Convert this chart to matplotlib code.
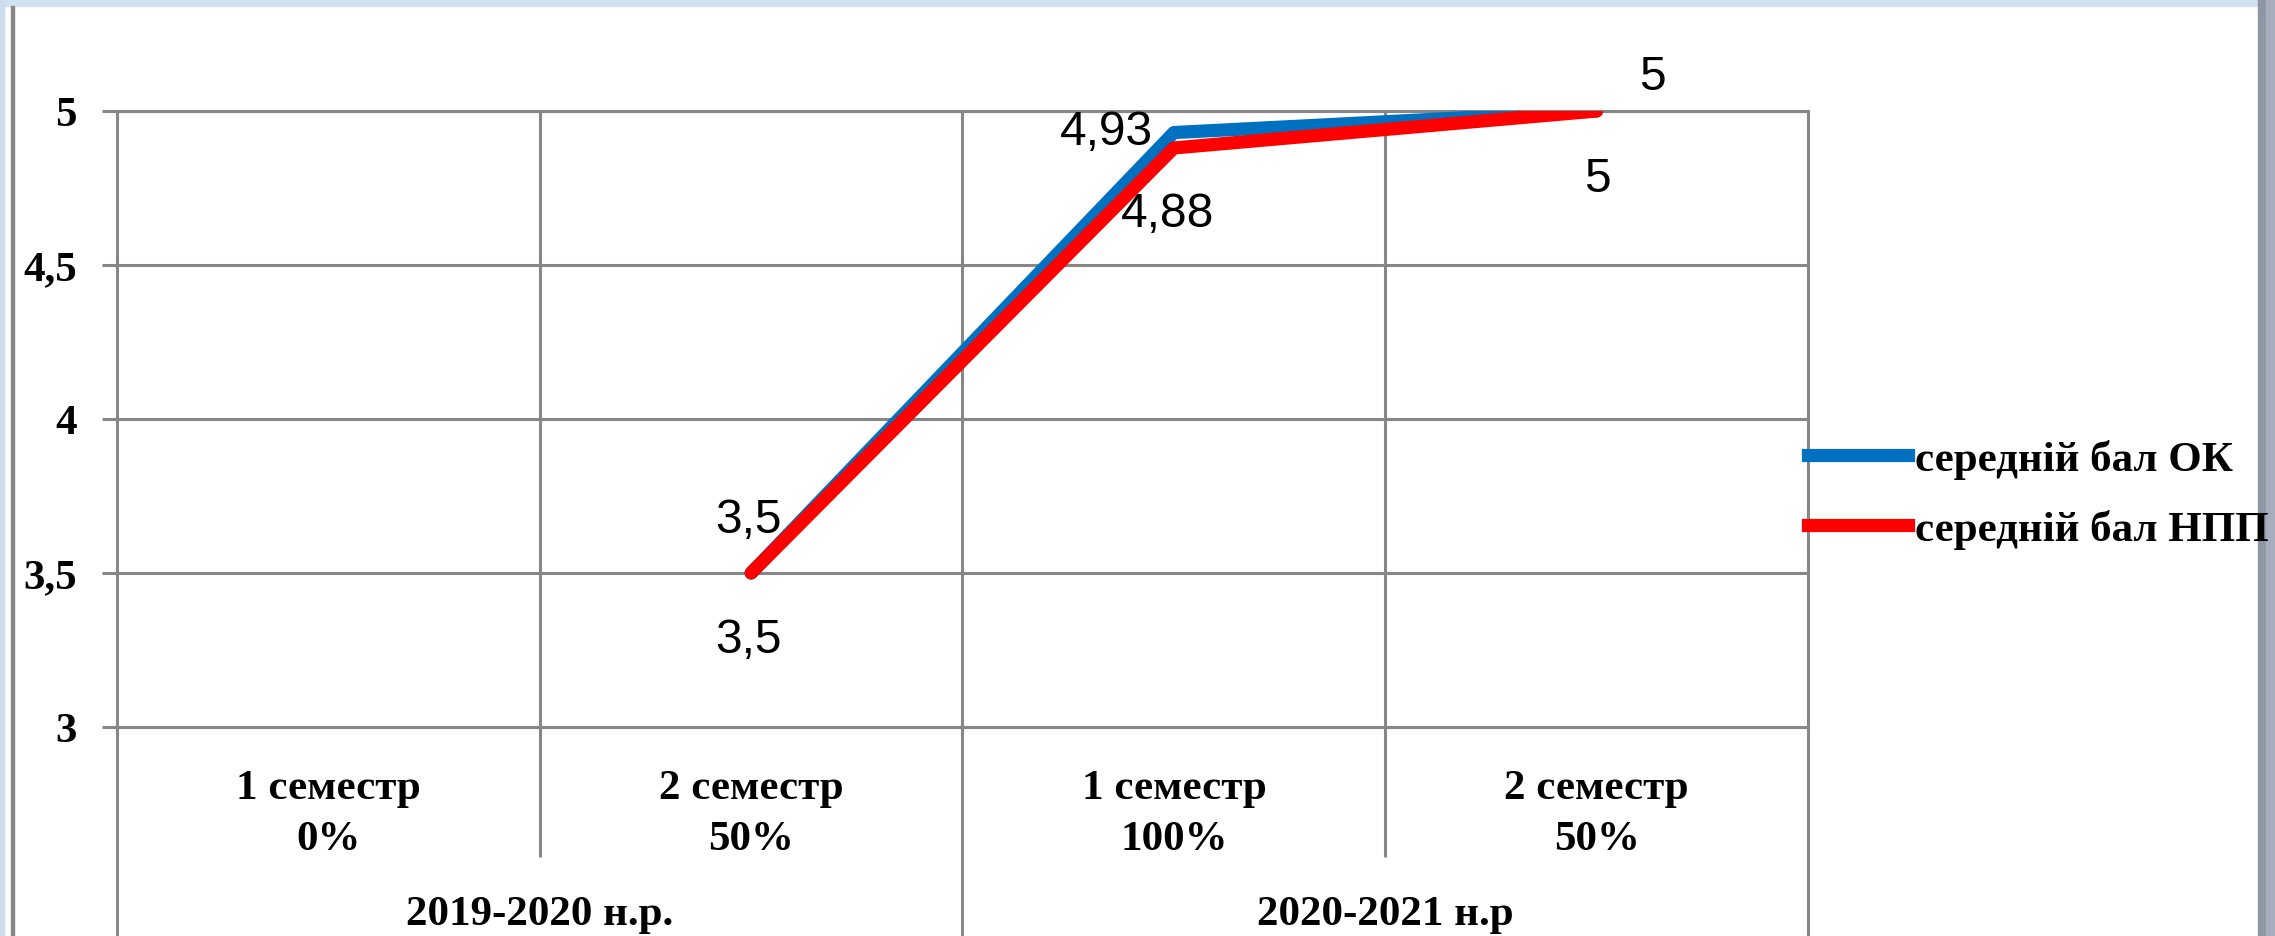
import numpy as np
import matplotlib.pyplot as plt
from matplotlib.patches import Rectangle
from matplotlib.lines import Line2D

# data
semesters = ["1 семестр", "2 семестр", "1 семестр", "2 семестр"]
shares = ["0%", "50%", "100%", "50%"]
years = ["2019-2020 н.р.", "2020-2021 н.р"]
ok_vals = [np.nan, 3.5, 4.93, 5]
npp_vals = [np.nan, 3.5, 4.88, 5]
ok_labels = ["", "3,5", "4,93", "5"]
npp_labels = ["", "3,5", "4,88", "5"]
yticks = [3, 3.5, 4, 4.5, 5]
ytick_labels = ["3", "3,5", "4", "4,5", "5"]
series_names = ["середній бал ОК", "середній бал НПП"]

W, H = 2275, 937
GRAY = "#878787"
BLUE = "#0070C0"
RED = "#FF0000"
serif = "Liberation Serif"
sans = "Liberation Sans"
FS = 31

# label offsets in pixels (x, y up)
ok_off = [(0, 0), (-3, 41), (-67, -11), (56, 22)]
npp_off = [(0, 0), (-3, -79), (-6, -78), (1, -80)]

fig = plt.figure(figsize=(W / 100, H / 100), dpi=100)
fig.patch.set_facecolor("white")

# plot area in pixels
L, R, T, B = 117, 1808, 112, 728
ax = fig.add_axes([L / W, (H - B) / H, (R - L) / W, (B - T) / H])

x = np.arange(len(semesters))
ax.plot(x, ok_vals, color=BLUE, lw=9.5, solid_capstyle="round", solid_joinstyle="round", zorder=3)
ax.plot(x, npp_vals, color=RED, lw=9.5, solid_capstyle="round", solid_joinstyle="round", zorder=4)

for i in range(len(x)):
    if ok_labels[i]:
        ax.annotate(ok_labels[i], (x[i], ok_vals[i]), xytext=ok_off[i], textcoords="offset pixels",
                    ha="center", va="baseline", fontsize=34.5, family=sans, color="black", zorder=5)
    if npp_labels[i]:
        ax.annotate(npp_labels[i], (x[i], npp_vals[i]), xytext=npp_off[i], textcoords="offset pixels",
                    ha="center", va="baseline", fontsize=34.5, family=sans, color="black", zorder=5)

ax.set_xlim(-0.5, len(x) - 0.5)
ax.set_ylim(3, 5)
ax.set_yticks(yticks, labels=ytick_labels)
ax.set_xticks([0.5, 1.5, 2.5], labels=["", "", ""])
ax.tick_params(axis="x", length=0)
ax.tick_params(axis="y", length=10.8, width=2.2, color=GRAY, pad=18, labelsize=FS)
for lab in ax.get_yticklabels():
    lab.set_family(serif)
    lab.set_fontweight("bold")
ax.grid(True, color=GRAY, lw=2.2)
for s in ax.spines.values():
    s.set_color(GRAY)
    s.set_linewidth(2.2)

# category labels
tr = ax.get_xaxis_transform()
ph = B - T
for i in range(len(x)):
    ax.text(x[i], (B - 799) / ph, semesters[i], transform=tr, ha="center", va="baseline",
            fontsize=FS, family=serif, fontweight="bold")
    ax.text(x[i], (B - 850) / ph, shares[i], transform=tr, ha="center", va="baseline",
            fontsize=FS, family=serif, fontweight="bold")
for j, yr in enumerate(years):
    ax.text(2 * j + 0.5, (B - 925) / ph, yr, transform=tr, ha="center", va="baseline",
            fontsize=FS, family=serif, fontweight="bold")

ax.vlines([0.5, 2.5], (B - 858) / ph, 0, transform=tr, colors=GRAY, lw=2.2, clip_on=False)
ax.vlines([-0.5, 1.5, 3.5], (B - H - 5) / ph, 0, transform=tr, colors=GRAY, lw=2.2, clip_on=False)

# legend
handles = [Line2D([], [], color=BLUE, lw=9.5), Line2D([], [], color=RED, lw=9.5)]
fig.legend(handles, series_names, loc="center left", bbox_to_anchor=(1808 / W, (H - 495) / H),
           frameon=False, borderpad=0, borderaxespad=0, handlelength=2.33, handletextpad=0.16,
           labelspacing=0.68, prop={"family": serif, "weight": "bold", "size": FS})

# chart frame decorations
fig.patches.append(Rectangle((0, (H - 7) / H), 1, 7 / H, transform=fig.transFigure, color="#D2E1F2", zorder=0))
fig.patches.append(Rectangle((0, 0), 4 / W, 1, transform=fig.transFigure, color="#CCDDEF", zorder=0))
fig.patches.append(Rectangle((11 / W, 0), 3 / W, (H - 7) / H, transform=fig.transFigure, color=GRAY, zorder=0))
fig.patches.append(Rectangle((2258 / W, 0), 8 / W, 1, transform=fig.transFigure, color="#8E96A6", zorder=0))
fig.patches.append(Rectangle((2266 / W, 0), 9 / W, 1, transform=fig.transFigure, color="#A6AEBD", zorder=0))

fig.savefig("out.png", dpi=100)
